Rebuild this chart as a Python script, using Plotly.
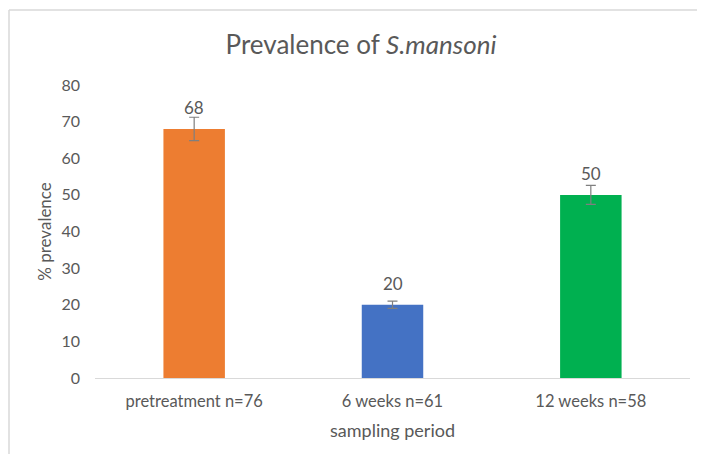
import plotly.graph_objects as go

categories = ["pretreatment n=76", "6 weeks n=61", "12 weeks n=58"]
prevalence = [68, 20, 50]
errors = [3.2, 1.0, 2.6]
bar_colors = ["#ED7D31", "#4472C4", "#00B050"]
y_ticks = [0, 10, 20, 30, 40, 50, 60, 70, 80]

# page has an 8px body margin; size the figure to fit inside it
OFF = 8
W, H = 705 - 2 * OFF, 462 - 2 * OFF
ml, mt = 95 - OFF, 85 - OFF
pw, ph = 595, 293
mr, mb = W - ml - pw, H - mt - ph

fig = go.Figure(go.Bar(
    x=categories, y=prevalence,
    marker=dict(color=bar_colors, line=dict(width=0)),
    error_y=dict(type="data", array=errors, color="#7f7f7f", thickness=1.2, width=5),
    cliponaxis=False,
))

for c, v in zip(categories, prevalence):
    fig.add_annotation(x=c, y=v, text=str(v), showarrow=False,
                       yanchor="middle", yshift=21,
                       font=dict(size=17, color="#595959", family="Lato"))

bx0 = (9 - OFF - ml) / pw
bx1 = (W - ml) / pw
by0 = -mb / ph
by1 = 1 + (mt - (10 - OFF)) / ph
border = dict(color="#d9d9d9", width=1.5)

fig.update_layout(
    width=W, height=H,
    margin=dict(l=ml, r=mr, t=mt, b=mb),
    paper_bgcolor="white", plot_bgcolor="white",
    bargap=0.69,
    font=dict(family="Lato", color="#595959"),
    title=dict(text="Prevalence of <i>S.mansoni</i>", x=(361 - OFF) / W, xanchor="center",
               y=1 - (45 - OFF) / H, yanchor="middle", font=dict(size=26, color="#595959")),
    showlegend=False,
    shapes=[
        dict(type="line", xref="paper", yref="paper", x0=bx0, x1=bx1, y0=by1, y1=by1,
             line=border, layer="below"),
        dict(type="line", xref="paper", yref="paper", x0=bx0, x1=bx0, y0=by0, y1=by1,
             line=border, layer="below"),
    ],
)
fig.update_xaxes(showline=True, linecolor="#d9d9d9", linewidth=1, ticks="",
                 automargin=False, ticklabelstandoff=8,
                 tickfont=dict(size=16.5, color="#595959"),
                 title=dict(text="sampling period", font=dict(size=18, color="#595959"), standoff=14))
fig.update_yaxes(range=[0, 80], tickvals=y_ticks, showgrid=False, zeroline=False,
                 automargin=False,
                 showline=False, ticks="", tickfont=dict(size=16, color="#595959"),
                 ticklabelstandoff=14,
                 title=dict(text="% prevalence", font=dict(size=17, color="#595959"), standoff=5))

fig.write_html("out.html")
